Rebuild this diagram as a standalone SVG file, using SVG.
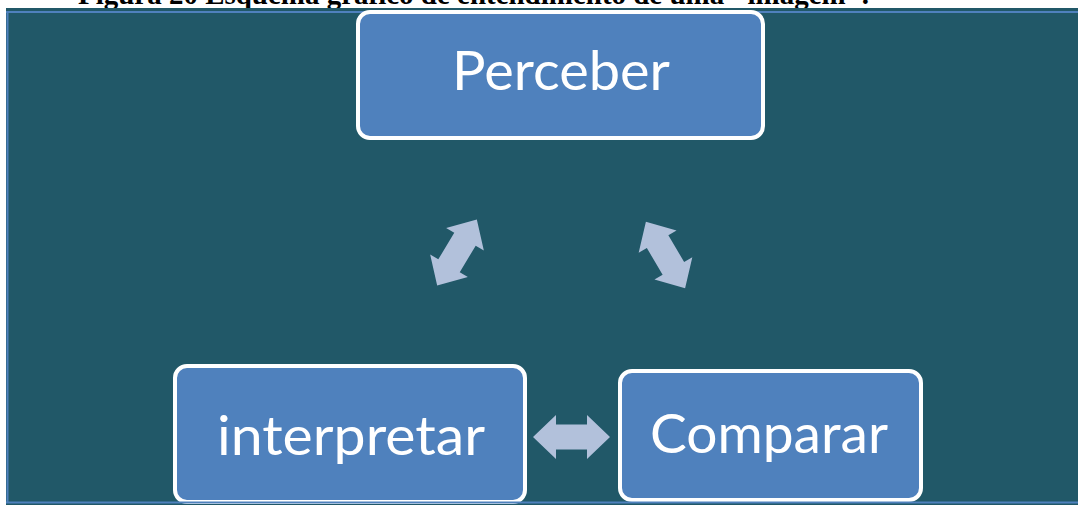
<svg xmlns="http://www.w3.org/2000/svg" width="1078" height="505" viewBox="0 0 1078 505">
<style>
.node rect{fill:#4F81BD;stroke:#FFFFFF;stroke-width:4}
.node text{fill:#FFFFFF;font-family:Lato,"Open Sans","Liberation Sans",sans-serif;font-size:55px;text-anchor:middle}
.arrow{fill:#B2C1DB}
.edge{stroke:#4F81BD;stroke-width:2;fill:none}
</style>
<defs>
<path id="dbl" d="M -38.5 0 L -15.5 -22 L -15.5 -12.5 L 15.5 -12.5 L 15.5 -22 L 38.5 0 L 15.5 22 L 15.5 12.5 L -15.5 12.5 L -15.5 22 Z"/>
</defs>
<rect x="0" y="0" width="1078" height="505" fill="#FFFFFF"/>
<text x="78" y="4" font-family="'Liberation Serif',serif" font-weight="bold" font-size="29" textLength="791" lengthAdjust="spacingAndGlyphs">Figura 20 Esquema gráfico de entendimento de uma "imagem".</text>
<rect x="6" y="8" width="1072" height="497" fill="#215868"/>
<line class="edge" x1="6" y1="12" x2="1078" y2="12"/>
<line class="edge" x1="7.5" y1="12" x2="7.5" y2="502"/>
<g id="node-perceber" class="node">
<rect x="358" y="12" width="405" height="126" rx="12"/>
<text x="561" y="90" textLength="218" lengthAdjust="spacingAndGlyphs">Perceber</text>
</g>
<g id="node-interpretar" class="node">
<rect x="175" y="366" width="350" height="136" rx="12"/>
<text x="351" y="455" textLength="268" lengthAdjust="spacingAndGlyphs">interpretar</text>
</g>
<g id="node-comparar" class="node">
<rect x="620" y="371" width="301" height="129" rx="12"/>
<text x="769" y="453" textLength="238" lengthAdjust="spacingAndGlyphs">Comparar</text>
</g>
<g id="connectors">
<use href="#dbl" class="arrow" transform="translate(457 252.5) rotate(-59)"/>
<use href="#dbl" class="arrow" transform="translate(665.5 255) rotate(59.4)"/>
<use href="#dbl" class="arrow" transform="translate(571.5 437)"/>
</g>
<line class="edge" x1="6" y1="502.5" x2="1078" y2="502.5"/>
</svg>
